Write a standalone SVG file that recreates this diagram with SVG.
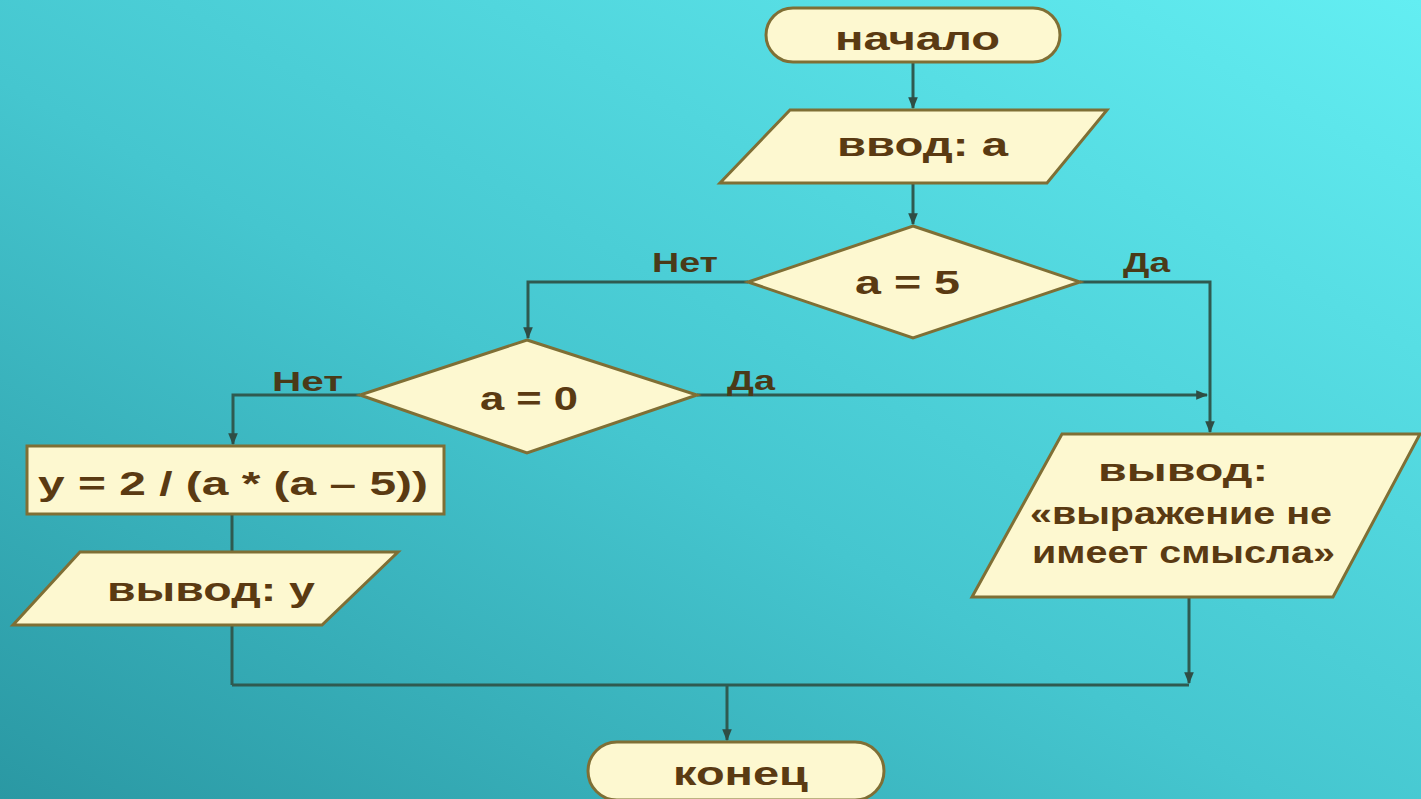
<svg xmlns="http://www.w3.org/2000/svg" width="1421" height="799" viewBox="0 0 1421 799">
<defs>
<linearGradient id="bg" x1="0" y1="1" x2="1" y2="0">
<stop offset="0" stop-color="#2a98a3"/>
<stop offset="0.45" stop-color="#45c6cf"/>
<stop offset="1" stop-color="#63eef2"/>
</linearGradient>
<marker id="arr" viewBox="0 0 10 10" refX="9" refY="5" markerWidth="4" markerHeight="4" orient="auto">
<path d="M0,1 L10,5 L0,9 Z" fill="#2f4d44"/>
</marker>
<style>
.shape{fill:#fdf8d0;stroke:#7f6f35;stroke-width:3}
.t{font-family:"Liberation Sans",Arial,sans-serif;font-weight:bold;fill:#5a3a12;font-size:34px}
.m{font-size:31px}
.lbl{font-family:"Liberation Sans",Arial,sans-serif;font-weight:bold;fill:#4a3a18;font-size:27px}
.c{fill:none;stroke:#2f5a50;stroke-width:3}
</style>
</defs>
<rect x="0" y="0" width="1421" height="799" fill="url(#bg)"/>

<g id="connectors">
<path class="c" d="M913,62 L913,108" marker-end="url(#arr)"/>
<path class="c" d="M913,183 L913,224" marker-end="url(#arr)"/>
<path class="c" d="M748,282 L528,282 L528,338" marker-end="url(#arr)"/>
<path class="c" d="M1080,282 L1210,282 L1210,432" marker-end="url(#arr)"/>
<path class="c" d="M697,395 L1207,395" marker-end="url(#arr)"/>
<path class="c" d="M360,395 L233,395 L233,444" marker-end="url(#arr)"/>
<path class="c" d="M232,514 L232,552"/>
<path class="c" d="M232,625 L232,685"/>
<path class="c" d="M1189,597 L1189,683" marker-end="url(#arr)"/>
<path class="c" d="M232,685 L1189,685"/>
<path class="c" d="M727,685 L727,740" marker-end="url(#arr)"/>
<text class="lbl" x="652" y="272" textLength="66" lengthAdjust="spacingAndGlyphs">Нет</text>
<text class="lbl" x="1123" y="272" textLength="47" lengthAdjust="spacingAndGlyphs">Да</text>
<text class="lbl" x="272" y="391" textLength="71" lengthAdjust="spacingAndGlyphs">Нет</text>
<text class="lbl" x="727" y="390" textLength="48" lengthAdjust="spacingAndGlyphs">Да</text>
</g>

<g id="start">
<rect class="shape" x="766" y="8" width="294" height="54" rx="27" ry="27"/>
<text class="t" x="835" y="50" textLength="165" lengthAdjust="spacingAndGlyphs">начало</text>
</g>

<g id="input">
<polygon class="shape" points="790,110 1107,110 1047,183 720,183"/>
<text class="t" x="837" y="156" textLength="171" lengthAdjust="spacingAndGlyphs">ввод: а</text>
</g>

<g id="cond1">
<polygon class="shape" points="913,226 1080,282 913,338 748,282"/>
<text class="t" x="855" y="294" textLength="105" lengthAdjust="spacingAndGlyphs">а = 5</text>
</g>

<g id="cond2">
<polygon class="shape" points="527,340 697,395 527,453 360,395"/>
<text class="t" x="480" y="410" textLength="98" lengthAdjust="spacingAndGlyphs">а = 0</text>
</g>

<g id="calc">
<rect class="shape" x="27" y="446" width="417" height="68"/>
<text class="t" x="38" y="495" textLength="390" lengthAdjust="spacingAndGlyphs">у = 2 / (а * (а – 5))</text>
</g>

<g id="outY">
<polygon class="shape" points="80,552 398,552 322,625 13,625"/>
<text class="t" x="107" y="601" textLength="208" lengthAdjust="spacingAndGlyphs">вывод: у</text>
</g>

<g id="outMsg">
<polygon class="shape" points="1062,434 1420,434 1333,597 972,597"/>
<text class="t m" x="1098" y="481" textLength="170" lengthAdjust="spacingAndGlyphs">вывод:</text>
<text class="t m" x="1030" y="524" textLength="302" lengthAdjust="spacingAndGlyphs">«выражение не</text>
<text class="t m" x="1032" y="563" textLength="303" lengthAdjust="spacingAndGlyphs">имеет смысла»</text>
</g>

<g id="end">
<rect class="shape" x="588" y="742" width="296" height="58" rx="29" ry="29"/>
<text class="t" x="673" y="785" textLength="135" lengthAdjust="spacingAndGlyphs">конец</text>
</g>
</svg>
